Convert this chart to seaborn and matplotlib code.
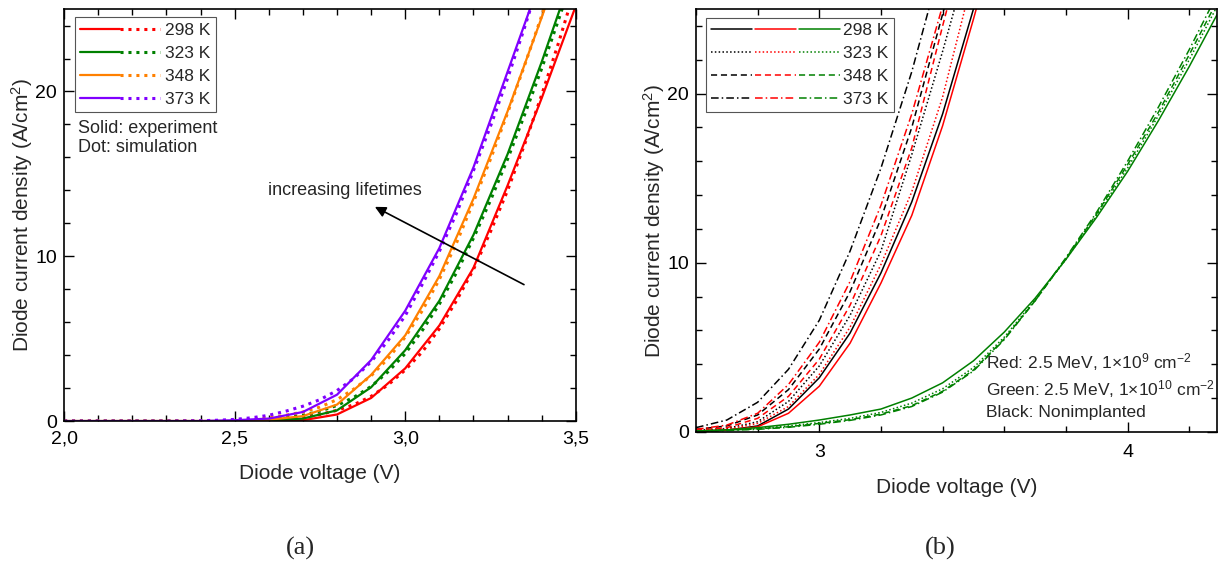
import numpy as np
import pandas as pd
import matplotlib
matplotlib.use("Agg")
import matplotlib.pyplot as plt
import seaborn as sns
from matplotlib.lines import Line2D
from matplotlib.legend_handler import HandlerTuple
from matplotlib.ticker import MultipleLocator, FixedLocator, FuncFormatter

# ---------------- data: panel (a) ----------------
temps = ["298 K", "323 K", "348 K", "373 K"]
colors_a = ["#FF0000", "#008000", "#FF8000", "#8000FF"]

v_exp = [2.0, 2.1, 2.2, 2.3, 2.4, 2.5, 2.6, 2.7, 2.8, 2.9, 3.0, 3.1, 3.2, 3.3, 3.4, 3.5]
exp_298 = [0, 0, 0, 0, 0, 0, 0.0, 0.05, 0.4, 1.4, 3.2, 5.8, 9.3, 14.3, 19.6, 25.2]
exp_323 = [0, 0, 0, 0, 0, 0, 0.05, 0.15, 0.65, 2.05, 4.3, 7.3, 11.3, 16.2, 21.8, 27.8]
exp_348 = [0, 0, 0, 0, 0, 0, 0.08, 0.3, 1.0, 2.8, 5.2, 8.8, 13.5, 18.8, 24.5, 30.5]
exp_373 = [0, 0, 0, 0, 0, 0.05, 0.15, 0.55, 1.6, 3.7, 6.7, 10.5, 15.4, 21.2, 27.0, 33.0]

v_sim = [2.0, 2.1, 2.2, 2.3, 2.4, 2.45, 2.5, 2.55, 2.6, 2.65, 2.7, 2.75, 2.8, 2.85, 2.9, 2.95,
         3.0, 3.05, 3.1, 3.15, 3.2, 3.25, 3.3, 3.35, 3.4, 3.45, 3.5]
sim_298 = [0, 0, 0, 0, 0, 0, 0.0, 0.02, 0.05, 0.12, 0.22, 0.4, 0.65, 1.0, 1.5, 2.2,
           3.1, 4.2, 5.6, 7.3, 9.2, 11.5, 14.0, 16.8, 19.8, 23.0, 26.4]
sim_323 = [0, 0, 0, 0, 0, 0.01, 0.02, 0.05, 0.1, 0.2, 0.35, 0.6, 0.95, 1.45, 2.1, 3.0,
           4.1, 5.5, 7.1, 9.0, 11.1, 13.4, 15.9, 18.6, 21.4, 24.4, 27.5]
sim_348 = [0, 0, 0, 0, 0.01, 0.02, 0.05, 0.1, 0.2, 0.35, 0.55, 0.85, 1.3, 1.95, 2.75, 3.8,
           5.1, 6.7, 8.6, 10.8, 13.3, 15.9, 18.7, 21.6, 24.6, 27.8, 31.0]
sim_373 = [0, 0, 0, 0, 0.02, 0.05, 0.1, 0.2, 0.35, 0.6, 0.9, 1.3, 1.85, 2.6, 3.6, 4.9,
           6.4, 8.3, 10.3, 12.6, 15.2, 17.9, 20.8, 23.9, 27.2, 30.6, 34.0]

exp_a = [exp_298, exp_323, exp_348, exp_373]
sim_a = [sim_298, sim_323, sim_348, sim_373]

# ---------------- data: panel (b) ----------------
v_b = [2.6, 2.7, 2.8, 2.9, 3.0, 3.1, 3.2, 3.3, 3.4, 3.5, 3.6, 3.7, 3.8, 3.9, 4.0, 4.1, 4.2, 4.3]
# Nonimplanted (black)
blk_298 = [0.05, 0.1, 0.35, 1.35, 3.2, 5.85, 9.4, 13.6, 18.8, 25.0, 31.5, 38, 45, 52, 60, 68, 76, 85]
blk_323 = [0.1, 0.2, 0.6, 1.8, 3.9, 6.9, 10.7, 16.4, 22.5, 29.0, 36, 43, 50, 58, 66, 74, 83, 92]
blk_348 = [0.15, 0.35, 1.0, 2.5, 4.9, 8.3, 12.6, 18.0, 24.7, 31.5, 39, 46, 54, 62, 70, 79, 88, 97]
blk_373 = [0.25, 0.7, 1.75, 3.7, 6.6, 10.7, 15.6, 21.3, 28.0, 35.0, 42, 50, 58, 66, 75, 84, 93, 102]
# 2.5 MeV, 1e9 cm-2 (red)
red_298 = [0.05, 0.1, 0.3, 1.1, 2.7, 5.25, 8.8, 12.8, 18.1, 24.4, 31.0, 38, 45, 52, 60, 68, 76, 85]
red_323 = [0.05, 0.15, 0.5, 1.5, 3.4, 6.2, 9.9, 14.2, 19.8, 27.0, 34, 41, 49, 57, 65, 73, 82, 91]
red_348 = [0.1, 0.25, 0.8, 2.1, 4.3, 7.5, 11.6, 16.8, 24.0, 31.0, 38, 46, 54, 62, 70, 79, 88, 97]
red_373 = [0.15, 0.4, 1.1, 2.8, 5.3, 8.9, 13.4, 18.8, 25.2, 32.0, 39, 47, 55, 63, 71, 80, 89, 98]
# 2.5 MeV, 1e10 cm-2 (green)
grn_298 = [0.05, 0.12, 0.25, 0.45, 0.7, 1.0, 1.35, 2.0, 2.9, 4.2, 5.9, 7.9, 10.2, 12.7, 15.4, 18.4, 21.6, 25.0]
grn_323 = [0.05, 0.1, 0.2, 0.35, 0.55, 0.8, 1.15, 1.7, 2.55, 3.8, 5.6, 7.8, 10.2, 12.8, 15.6, 18.7, 22.0, 25.5]
grn_348 = [0.05, 0.1, 0.18, 0.3, 0.5, 0.72, 1.05, 1.55, 2.4, 3.65, 5.5, 7.75, 10.25, 12.9, 15.8, 18.9, 22.3, 25.8]
grn_373 = [0.04, 0.08, 0.15, 0.27, 0.45, 0.68, 1.0, 1.5, 2.35, 3.6, 5.45, 7.75, 10.3, 13.0, 16.0, 19.2, 22.6, 26.2]

groups_b = ["Nonimplanted", "1e9", "1e10"]
colors_b = ["#000000", "#FF0000", "#008000"]
series_b = [[blk_298, blk_323, blk_348, blk_373],
            [red_298, red_323, red_348, red_373],
            [grn_298, grn_323, grn_348, grn_373]]

# ---------------- styling ----------------
sns.set_style("ticks")
plt.rcParams['font.family'] = ['Liberation Sans', 'DejaVu Sans']
plt.rcParams['mathtext.fontset'] = 'custom'
plt.rcParams['mathtext.rm'] = 'Liberation Sans'
plt.rcParams['mathtext.it'] = 'Liberation Sans'
plt.rcParams['mathtext.default'] = 'regular'

fig = plt.figure(figsize=(12.2, 5.69), dpi=100)
axA = fig.add_axes([0.0525, 0.260, 0.4195, 0.724])
axB = fig.add_axes([0.5705, 0.241, 0.4270, 0.743])

# panel (a)
lw_a = 1.6
dot_style = (0, (1.0, 1.6))
for c, e, s in zip(colors_a, exp_a, sim_a):
    sns.lineplot(x=v_exp, y=e, ax=axA, color=c, lw=lw_a, linestyle='-', legend=False)
    sns.lineplot(x=v_sim, y=s, ax=axA, color=c, lw=2.2, linestyle=dot_style, legend=False)

axA.set_xlim(2.0, 3.5)
axA.set_ylim(0, 25)
axA.xaxis.set_major_locator(FixedLocator([2.0, 2.5, 3.0, 3.5]))
axA.xaxis.set_minor_locator(MultipleLocator(0.1))
axA.xaxis.set_major_formatter(FuncFormatter(lambda x, p: f"{x:.1f}".replace('.', ',')))
axA.yaxis.set_major_locator(FixedLocator([0, 10, 20]))
axA.yaxis.set_minor_locator(MultipleLocator(2))
axA.set_xlabel("Diode voltage (V)", fontsize=15, labelpad=12)
axA.set_ylabel("Diode current density (A/cm$^2$)", fontsize=15, labelpad=0)

handles_a = []
for c in colors_a:
    h1 = Line2D([], [], color=c, lw=lw_a, linestyle='-')
    h2 = Line2D([], [], color=c, lw=2.2, linestyle=dot_style)
    handles_a.append((h1, h2))
legA = axA.legend(handles_a, temps, handler_map={tuple: HandlerTuple(ndivide=2, pad=0.05)},
                  loc='upper left', bbox_to_anchor=(0.021, 0.98), borderaxespad=0,
                  fontsize=12.5, handlelength=4.6, handletextpad=0.3, labelspacing=0.45,
                  borderpad=0.3, fancybox=False, framealpha=1, edgecolor='#555555')
legA.get_frame().set_linewidth(0.8)

axA.text(0.027, 0.71, "Solid: experiment", transform=axA.transAxes, fontsize=13, va='center')
axA.text(0.027, 0.663, "Dot: simulation", transform=axA.transAxes, fontsize=13, va='center')
axA.text(2.598, 14.0, "increasing lifetimes", fontsize=13, va='center')
axA.annotate('', xy=(2.911, 13.0), xytext=(3.348, 8.28),
             arrowprops=dict(arrowstyle='-|>', color='black', lw=1.2, mutation_scale=16,
                             shrinkA=0, shrinkB=0))

# panel (b)
lw_b = 1.1
styles_b = ['-', (0, (1, 1.5)), (0, (4, 2.5)), (0, (5, 2, 1, 2))]
for grp, c, ser in zip(groups_b, colors_b, series_b):
    for ls, y in zip(styles_b, ser):
        sns.lineplot(x=v_b, y=y, ax=axB, color=c, lw=lw_b, linestyle=ls, legend=False)

axB.set_xlim(2.6, 4.29)
axB.set_ylim(0, 25)
axB.xaxis.set_major_locator(FixedLocator([3, 4]))
axB.xaxis.set_minor_locator(MultipleLocator(0.2))
axB.xaxis.set_major_formatter(FuncFormatter(lambda x, p: f"{x:.0f}"))
axB.yaxis.set_major_locator(FixedLocator([0, 10, 20]))
axB.yaxis.set_minor_locator(MultipleLocator(2))
axB.set_xlabel("Diode voltage (V)", fontsize=15, labelpad=12)
axB.set_ylabel("Diode current density (A/cm$^2$)", fontsize=15, labelpad=0)

handles_b = []
for ls in styles_b:
    handles_b.append(tuple(Line2D([], [], color=c, lw=lw_b, linestyle=ls) for c in colors_b))
legB = axB.legend(handles_b, temps, handler_map={tuple: HandlerTuple(ndivide=3, pad=0.15)},
                  loc='upper left', bbox_to_anchor=(0.019, 0.98), borderaxespad=0,
                  fontsize=12.5, handlelength=7.4, handletextpad=0.2, labelspacing=0.45,
                  borderpad=0.3, fancybox=False, framealpha=1, edgecolor='#555555')
legB.get_frame().set_linewidth(0.8)

axB.text(0.557, 0.165, "Red: 2.5 MeV, 1×10$^{9}$ cm$^{-2}$", transform=axB.transAxes, fontsize=12.5, va='center')
axB.text(0.557, 0.101, "Green: 2.5 MeV, 1×10$^{10}$ cm$^{-2}$", transform=axB.transAxes, fontsize=12.5, va='center')
axB.text(0.557, 0.047, "Black: Nonimplanted", transform=axB.transAxes, fontsize=12.5, va='center')

for ax in (axA, axB):
    for sp in ax.spines.values():
        sp.set_visible(True)
        sp.set_linewidth(1.2)
        sp.set_color('black')
    ax.tick_params(which='both', direction='in', top=True, right=True, colors='black',
                   labelsize=14, width=1.0)
    ax.tick_params(which='major', length=7, pad=5)
    ax.tick_params(which='minor', length=4)
    ax.set_facecolor('white')
axA.tick_params(axis='x', which='major', pad=7)
axB.tick_params(axis='x', which='major', pad=9)

fig.text(300 / 1220, 1 - 548 / 569, "(a)", fontsize=19, ha='center', va='center',
         family=['Liberation Serif', 'DejaVu Serif'])
fig.text(940 / 1220, 1 - 548 / 569, "(b)", fontsize=19, ha='center', va='center',
         family=['Liberation Serif', 'DejaVu Serif'])

fig.savefig("out.png", dpi=100, facecolor='white')
